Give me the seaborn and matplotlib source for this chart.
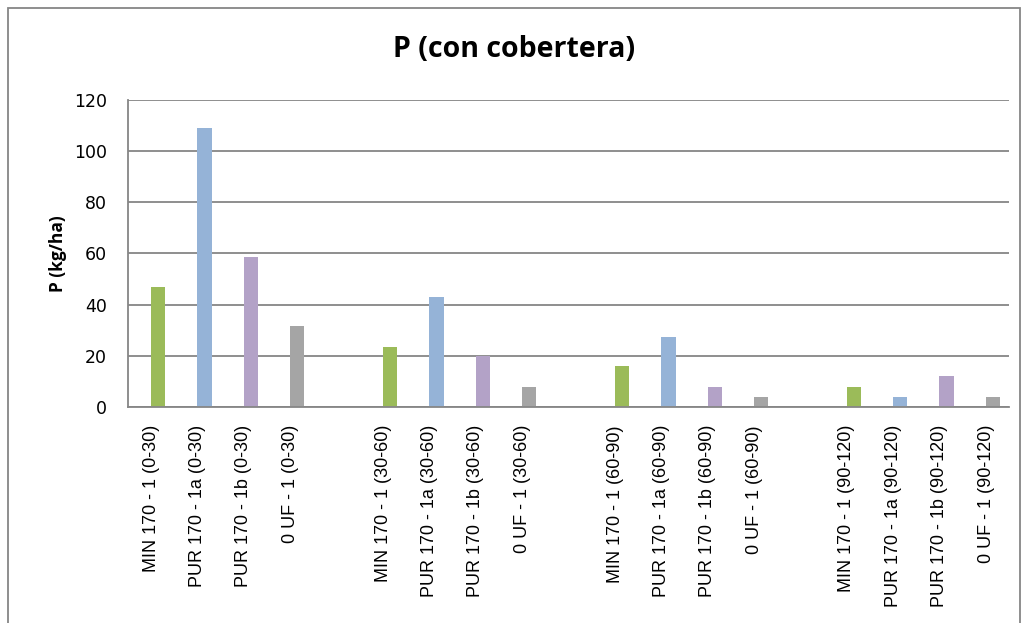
import matplotlib
matplotlib.use("Agg")
import matplotlib.pyplot as plt
from matplotlib.patches import Rectangle
import pandas as pd
import seaborn as sns

# treatments and depth layers as they appear on the x axis
treatments = ["MIN 170 - 1", "PUR 170 - 1a", "PUR 170 - 1b", "0 UF - 1"]
depths = ["0-30", "30-60", "60-90", "90-120"]

# P (kg/ha), one list per depth, in treatment order
p_0_30 = [47, 109, 58.5, 31.5]
p_30_60 = [23.5, 43, 20, 8]
p_60_90 = [16, 27.5, 8, 4]
p_90_120 = [8, 4, 12, 4]

colors = ["#9BBB59", "#95B3D7", "#B3A2C7", "#A5A5A5"]

# build the long table, leaving one empty slot between depth groups
rows = []
tick_labels = []
slot = 0
for i, (depth, vals) in enumerate(zip(depths, [p_0_30, p_30_60, p_60_90, p_90_120])):
    if i > 0:
        tick_labels.append("")
        slot += 1
    for trt, v in zip(treatments, vals):
        rows.append({"slot": slot, "treatment": trt, "P": v})
        tick_labels.append(f"{trt} ({depth})")
        slot += 1
df = pd.DataFrame(rows)

sns.set_style("white")
plt.rcParams["font.family"] = ["Open Sans", "DejaVu Sans"]
plt.rcParams["text.color"] = "black"
plt.rcParams["xtick.color"] = "black"
plt.rcParams["ytick.color"] = "black"
plt.rcParams["axes.labelcolor"] = "black"

fig = plt.figure(figsize=(10.32, 6.23), dpi=100)
ax = fig.add_axes([0.124, 0.3467, 0.854, 0.4928])

# bars sit just right of the category centre, like the Excel original
df["xpos"] = df["slot"] + 0.15
sns.barplot(data=df, x="xpos", y="P", hue="treatment", palette=colors,
            hue_order=treatments, native_scale=True, width=0.31, dodge=False,
            legend=False, saturation=1, linewidth=0, ax=ax)

ax.set_xlim(-0.5, len(tick_labels) - 0.5)
ax.set_ylim(0, 120)
ax.yaxis.grid(True, color="#868686", linewidth=1.3)
ax.set_axisbelow(True)

ax.set_xticks(range(len(tick_labels)))
ax.set_xticklabels(tick_labels, rotation=90, fontsize=13,
                   family=["Liberation Sans", "DejaVu Sans"])
ax.set_yticks(range(0, 121, 20))
ax.set_yticklabels([str(v) for v in range(0, 121, 20)], fontsize=12.5,
                   family=["DejaVu Sans"])
ax.tick_params(axis="x", length=0, pad=13)
ax.tick_params(axis="y", length=6, width=1.3, color="#868686", pad=9)

for s in ["top", "right"]:
    ax.spines[s].set_visible(False)
for s in ["left", "bottom"]:
    ax.spines[s].set_color("#868686")
    ax.spines[s].set_linewidth(1.3)

ax.set_xlabel("")
ax.set_ylabel("P (kg/ha)", fontsize=12.5, fontweight="bold", labelpad=5)
fig.text(0.498, 0.92, "P (con cobertera)", ha="center", va="center",
         fontsize=20.5, fontweight="bold")

# outer chart frame
fig.patches.append(Rectangle((8 / 1032, -0.1), 1012 / 1032, 1.1 - 8 / 623,
                             transform=fig.transFigure, fill=False,
                             edgecolor="#868686", linewidth=1.3))

fig.savefig("out.png", dpi=100)
